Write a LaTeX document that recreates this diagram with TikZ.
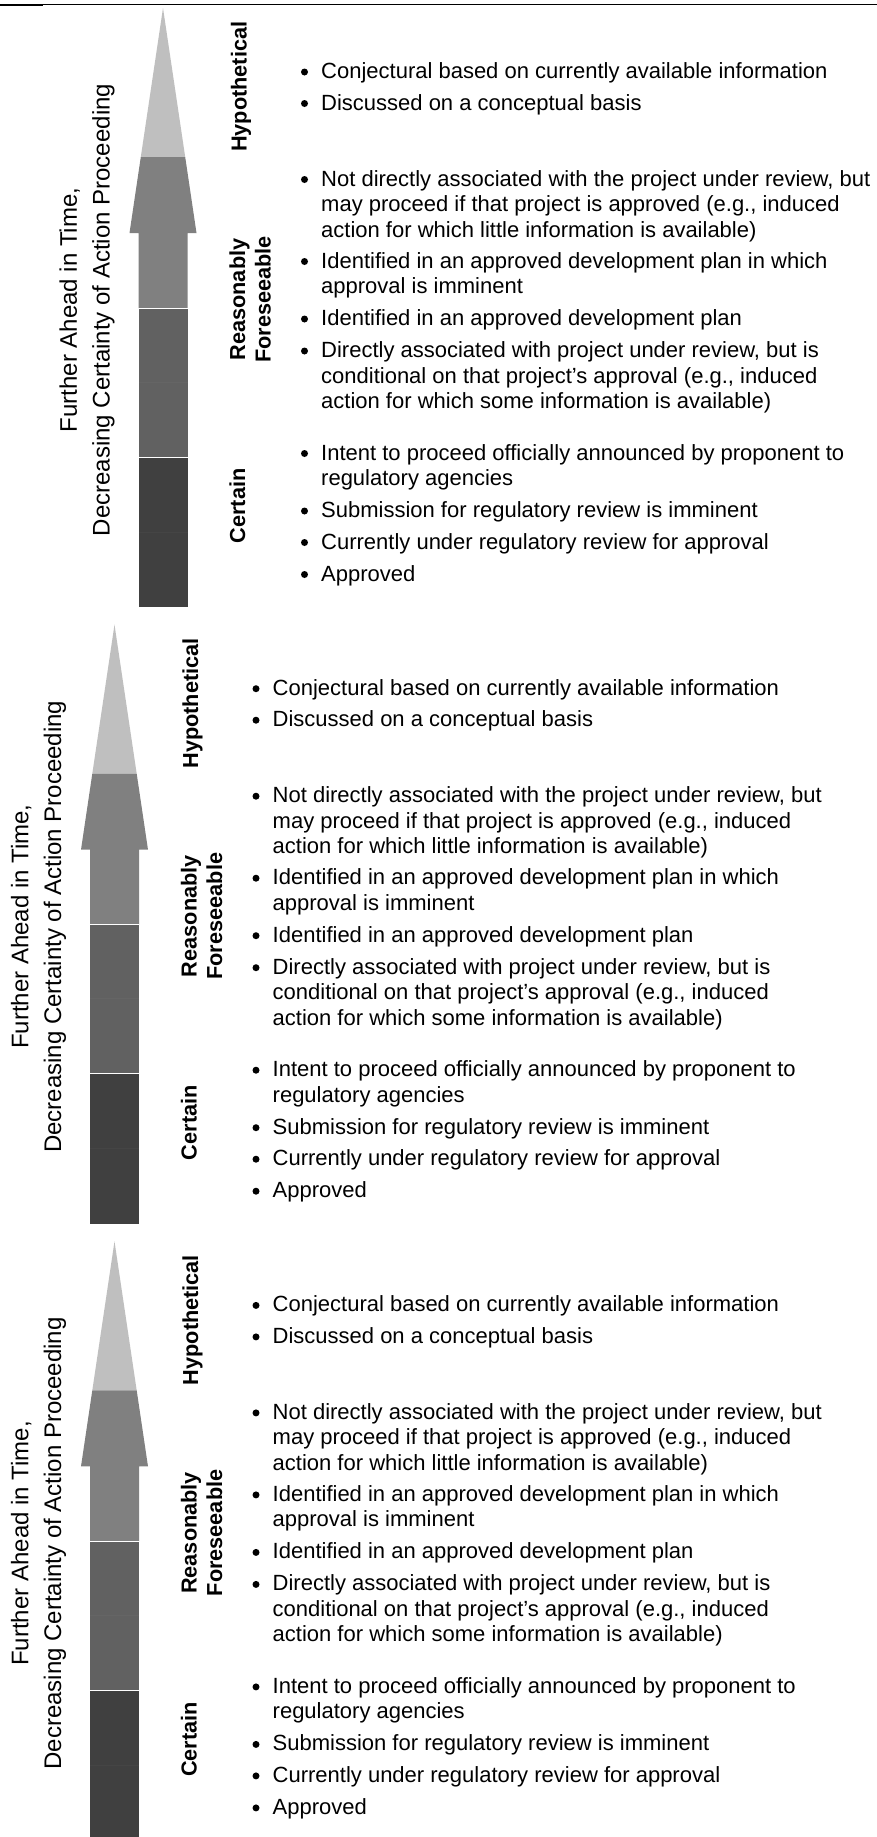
\documentclass[tikz,border=0pt]{standalone}
\usepackage{fontspec}
\setmainfont{Liberation Sans}
\definecolor{cLight}{gray}{0.75}
\definecolor{cMid}{gray}{0.5}
\definecolor{cDark}{gray}{0.38}
\definecolor{cDarkest}{gray}{0.25}
\tikzset{
  txt/.style={anchor=base west, inner sep=0pt, font=\fontsize{22pt}{25.5pt}\selectfont},
  lbl/.style={anchor=base, rotate=90, inner sep=0pt, font=\bfseries\fontsize{21.7pt}{25pt}\selectfont},
  ttl/.style={anchor=base, rotate=90, inner sep=0pt, font=\fontsize{24pt}{33pt}\selectfont},
  bul/.style={circle, fill=black, inner sep=0pt, minimum size=7pt},
}
\newcommand\drawpanel[3]{%
\begin{scope}[shift={(#2,#3)}]
  \fill[cLight] (163,8) -- (185.2,157) -- (140.8,157) -- cycle;
  \fill[cMid] (140.8,157) -- (185.2,157) -- (196.5,233) -- (187.5,233) -- (187.5,308)
     -- (138.5,308) -- (138.5,233) -- (129.5,233) -- cycle;
  \fill[cDark] (138.5,308) rectangle (187.5,457);
  \fill[cDarkest] (138.5,457) rectangle (187.5,607);
  \draw[white, line width=1pt] (138.5,308) -- (187.5,308) (138.5,457) -- (187.5,457);
  \draw[white, opacity=0.03, line width=1pt] (138.5,382) -- (187.5,382) (138.5,532) -- (187.5,532);
  \node[ttl] (#1-ttl1) at (76.8,310) {Further Ahead in Time,};
  \node[ttl] (#1-ttl2) at (109.5,310) {Decreasing Certainty of Action Proceeding};
  \node[lbl] (#1-hyp) at (246.5,86.7) {Hypothetical};
  \node[lbl] (#1-rea) at (245,299.5) {Reasonably};
  \node[lbl] (#1-for) at (270.5,299.5) {Foreseeable};
  \node[lbl] (#1-cer) at (245,506) {Certain};
  \foreach \by [count=\k] in {78.5,110,186,268,325.5,357.5,460,517.5,549,581}
    \node[bul] (#1-b\k) at (304.5,\by-6.5) {};
  \foreach \ly/\lt [count=\k] in {
      78.5/{Conjectural based on currently available information},
      110/{Discussed on a conceptual basis},
      186/{Not directly associated with the project under review, but},
      211.5/{may proceed if that project is approved (e.g., induced},
      237/{action for which little information is available)},
      268/{Identified in an approved development plan in which},
      293.5/{approval is imminent},
      325.5/{Identified in an approved development plan},
      357.5/{Directly associated with project under review, but is},
      383/{conditional on that project’s approval (e.g., induced},
      408.5/{action for which some information is available)},
      460/{Intent to proceed officially announced by proponent to},
      485.5/{regulatory agencies},
      517.5/{Submission for regulatory review is imminent},
      549/{Currently under regulatory review for approval},
      581/{Approved}}
    \node[txt] (#1-l\k) at (321,\ly) {\lt};
\end{scope}}
\begin{document}
\begin{tikzpicture}[x=1pt, y=-1pt]
  \useasboundingbox (0,0) rectangle (877,1837);
  \clip (0,0) rectangle (877,1837);
  \fill[white] (0,0) rectangle (877,1837);
  \draw[line width=1pt] (0,4.5) -- (877,4.5);
  \draw[line width=2pt] (0,5) -- (43,5);
  \drawpanel{pA}{0}{0}
  \drawpanel{pB}{-48.5}{616.7}
  \drawpanel{pC}{-48.5}{1233.4}
\end{tikzpicture}
\end{document}
